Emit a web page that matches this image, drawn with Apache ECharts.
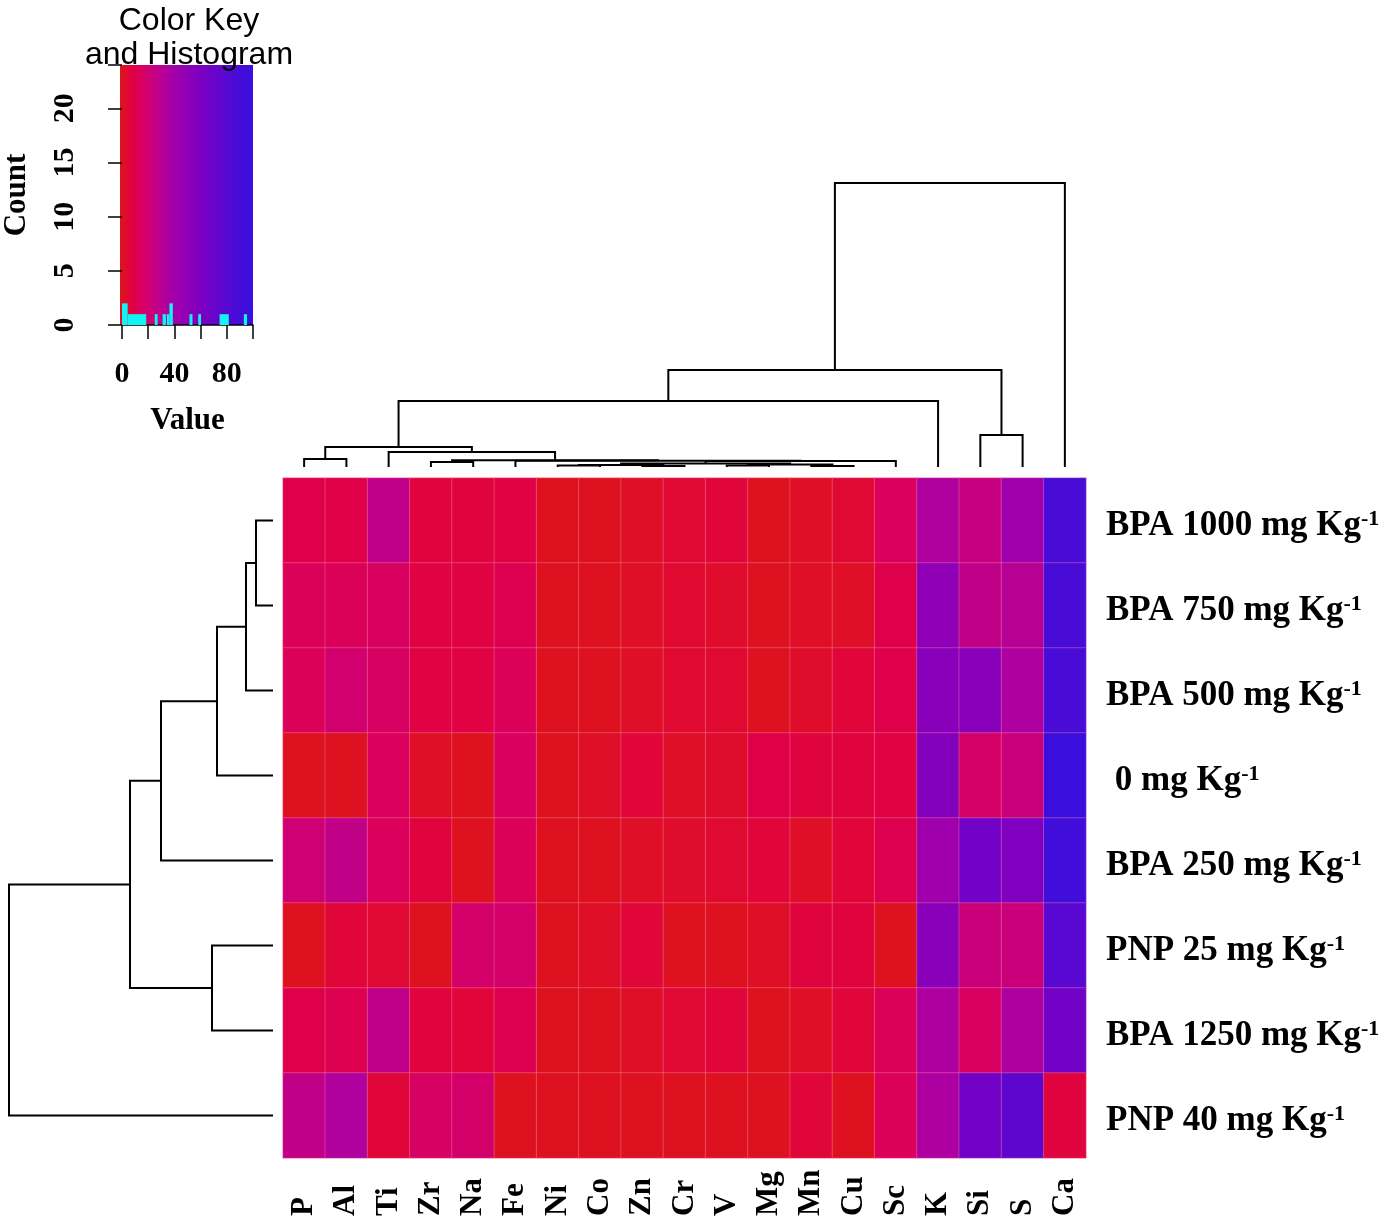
<!DOCTYPE html>
<html><head><meta charset="utf-8">
<script src="https://cdn.jsdelivr.net/npm/echarts@6/dist/echarts.min.js"></script>
<style>html,body{margin:0;padding:0;background:#fff}#c{width:1400px;height:1230px}</style>
</head><body><div id="c"></div>
<script>
// ---- data ----
const elements = ['P','Al','Ti','Zr','Na','Fe','Ni','Co','Zn','Cr','V','Mg','Mn','Cu','Sc','K','Si','S','Ca'];
const treatments = ['BPA 1000 mg Kg','BPA 750 mg Kg','BPA 500 mg Kg',' 0 mg Kg','BPA 250 mg Kg','PNP 25 mg Kg','BPA 1250 mg Kg','PNP 40 mg Kg'];
const bpa1000 = [11,10,28,8,8,9,2,2,3,6,7,2,3,6,15,35,26,42,88];
const bpa750  = [14,14,16,9,9,12,2,2,3,5,4,2,3,3,11,50,28,32,88];
const bpa500  = [14,20,17,9,9,14,2,2,3,5,5,2,4,7,11,55,55,36,88];
const ctrl0   = [2,2,15,3,2,16,2,3,7,3,4,10,8,8,9,58,18,24,98];
const bpa250  = [22,28,15,8,2,14,2,2,3,4,5,7,3,7,12,42,66,60,93];
const pnp25   = [2,7,6,2,19,19,2,3,7,2,2,3,8,8,2,55,24,24,80];
const bpa1250 = [11,12,28,8,7,12,2,2,3,6,7,2,3,7,14,36,16,36,66];
const pnp40   = [28,35,7,17,19,2,2,2,2,2,2,2,7,2,14,36,66,76,8];
const rowValues = [bpa1000,bpa750,bpa500,ctrl0,bpa250,pnp25,bpa1250,pnp40];

// column dendrogram merges: [childA, childB, height]; leaves 0..18, new nodes 19..
const colMerges = [
  [0,1,8],[3,4,5],[6,7,1.5],[8,9,1],[21,22,2],[10,11,1.5],[12,13,1],[24,25,2.5],
  [23,26,3.5],[27,14,6],[5,28,6.3],[20,29,6.8],[2,30,15],[19,31,20],[32,15,66],
  [16,17,32],[33,34,97],[35,18,284]
];
// row dendrogram merges; leaves 0..7, new nodes 8..
const rowMerges = [[0,1,17],[8,2,27],[9,3,56],[10,4,112],[5,6,61],[11,12,143],[13,7,264]];

// histogram of the colour key: [from, to, count]
const histBins = [[0,4.3,2],[4.3,18.5,1],[25,27.2,1],[31,33.5,1],[34.2,36.2,1],[36.2,38.8,2],
  [51.5,53.8,1],[58.2,60.3,1],[74.5,81.5,1],[93,95.4,1]];
const keyTicks = [0,40,80];

// colour ramp (value 0..100, evenly spaced)
const keyColors = ['#dc1616','#e00a30','#e00048','#da005c','#d2006e','#c8007e','#bc008e','#b0009e',
  '#a400a8','#9a00b0','#9000b6','#8800ba','#8000bf','#7402c4','#6a04c8','#6006cc','#5808d0',
  '#4e0ad4','#460cd8','#3e0edc','#3810e0'];

// ---- build ----
const heatData = [];
rowValues.forEach((row, r) => row.forEach((v, c) => heatData.push([c, r, v])));

function dendro(nLeaves, merges, horizontal) {
  const pos = [], ht = [], segs = [];
  for (let i = 0; i < nLeaves; i++) { pos.push(i); ht.push(0); }
  merges.forEach(([a, b, h]) => {
    const s = [[pos[a], ht[a]], [pos[a], h], [pos[b], h], [pos[b], ht[b]]];
    segs.push({ coords: horizontal ? s.map(([p, v]) => [v, p]) : s });
    pos.push((pos[a] + pos[b]) / 2); ht.push(h);
  });
  return segs;
}
const colSegs = dendro(elements.length, colMerges, false);
const rowSegs = dendro(treatments.length, rowMerges, true);

const serif = 'Liberation Serif, Times New Roman, serif';
const sans = 'Liberation Sans, Arial, sans-serif';
const chart = echarts.init(document.getElementById('c'), null, { renderer: 'canvas' });

chart.setOption({
  backgroundColor: '#ffffff',
  animation: false,
  title: {
    text: 'Color Key\nand Histogram', left: 184, top: -1, textAlign: 'center',
    textStyle: { fontFamily: sans, fontWeight: 'normal', fontSize: 32, lineHeight: 34, color: '#000' }
  },
  graphic: [{
    type: 'rect', z: 0, shape: { x: 120, y: 65, width: 133, height: 260 },
    style: { fill: new echarts.graphic.LinearGradient(0, 0, 1, 0,
      keyColors.map((c, i) => ({ offset: i / (keyColors.length - 1), color: c }))) }
  }],
  grid: [
    { left: 283, top: 478, width: 803, height: 680 },
    { left: 283, top: 183, width: 803, height: 284 },
    { left: 9, top: 478, width: 264, height: 680 },
    { left: 120, top: 65, width: 133, height: 260 }
  ],
  xAxis: [
    { gridIndex: 0, type: 'category', data: elements, position: 'bottom',
      axisLine: { show: false }, axisTick: { show: false }, splitLine: { show: false },
      axisLabel: { rotate: 90, align: 'left', margin: 58, interval: 0, color: '#000',
        fontFamily: serif, fontWeight: 'bold', fontSize: 31 } },
    { gridIndex: 1, type: 'value', min: -0.5, max: 18.5, show: false },
    { gridIndex: 2, type: 'value', min: 0, max: 264, inverse: true, show: false },
    { gridIndex: 3, type: 'value', min: 0, max: 100, interval: 20,
      name: 'Value', nameLocation: 'middle', nameGap: 80,
      nameTextStyle: { fontFamily: serif, fontWeight: 'bold', fontSize: 31, color: '#000' },
      axisLine: { show: true, onZero: false, lineStyle: { color: '#000', width: 1.5 } },
      axisTick: { show: true, length: 14, lineStyle: { color: '#000', width: 1.5 } },
      splitLine: { show: false },
      axisLabel: { margin: 34, color: '#000', fontFamily: serif, fontWeight: 'bold', fontSize: 30,
        formatter: v => keyTicks.includes(v) ? String(v) : '' } }
  ],
  yAxis: [
    { gridIndex: 0, type: 'category', data: treatments, inverse: true, position: 'right',
      axisLine: { show: false }, axisTick: { show: false }, splitLine: { show: false },
      axisLabel: { margin: 20, align: 'left', color: '#000', padding: [10, 0, 0, 0],
        formatter: v => '{a|' + v + '}{s|-1}',
        rich: {
          a: { fontFamily: serif, fontWeight: 'bold', fontSize: 35, color: '#000' },
          s: { fontFamily: serif, fontWeight: 'bold', fontSize: 22, color: '#000', verticalAlign: 'top' }
        } } },
    { gridIndex: 1, type: 'value', min: 0, max: 284, show: false },
    { gridIndex: 2, type: 'value', min: -0.5, max: 7.5, inverse: true, show: false },
    { gridIndex: 3, type: 'value', min: 0, max: 24, interval: 5,
      name: 'Count', nameLocation: 'middle', nameGap: 90, nameRotate: 90,
      nameTextStyle: { fontFamily: serif, fontWeight: 'bold', fontSize: 31, color: '#000' },
      axisLine: { show: false }, splitLine: { show: false },
      axisTick: { show: true, length: 14, lineStyle: { color: '#000', width: 1.5 } },
      axisLabel: { rotate: 90, margin: 42, color: '#000', fontFamily: serif, fontWeight: 'bold', fontSize: 30,
        formatter: v => (v % 5 === 0 ? String(v) : '') } }
  ],
  visualMap: {
    show: false, type: 'continuous', min: 0, max: 100, dimension: 2, seriesIndex: 0,
    inRange: { color: keyColors }
  },
  series: [
    { type: 'heatmap', xAxisIndex: 0, yAxisIndex: 0, data: heatData,
      itemStyle: { borderColor: 'rgba(255,150,180,0.35)', borderWidth: 1 },
      emphasis: { disabled: true }, silent: true },
    { type: 'lines', coordinateSystem: 'cartesian2d', xAxisIndex: 1, yAxisIndex: 1, polyline: true,
      data: colSegs, silent: true, lineStyle: { color: '#000', width: 2, opacity: 1 } },
    { type: 'lines', coordinateSystem: 'cartesian2d', xAxisIndex: 2, yAxisIndex: 2, polyline: true,
      data: rowSegs, silent: true, lineStyle: { color: '#000', width: 2, opacity: 1 } },
    { type: 'custom', xAxisIndex: 3, yAxisIndex: 3, data: histBins, silent: true, z: 5,
      encode: { x: [0, 1], y: 2 },
      renderItem: (params, api) => {
        const p0 = api.coord([api.value(0), 0]);
        const p1 = api.coord([api.value(1), api.value(2)]);
        return { type: 'rect', shape: { x: p0[0], y: p1[1], width: p1[0] - p0[0], height: p0[1] - p1[1] },
          style: { fill: '#10f4f4' } };
      } }
  ]
});
</script></body></html>
